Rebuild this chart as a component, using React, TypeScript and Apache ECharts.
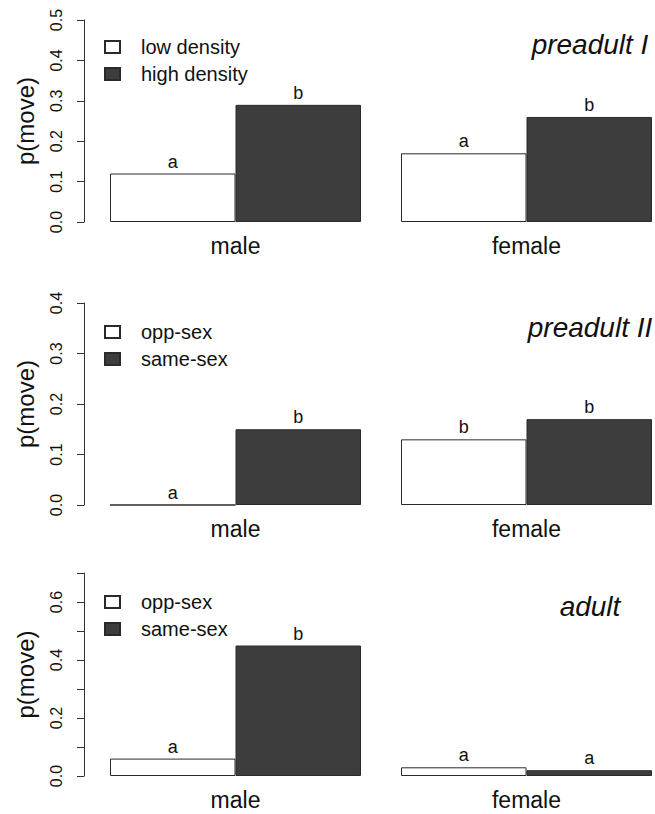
import React, { useEffect, useRef } from "react";
import * as echarts from "echarts";

const categories = ["male", "female"];

const p1Names = ["low density", "high density"];
const p1Low = [0.12, 0.17];
const p1High = [0.29, 0.26];
const p1LowLetters = ["a", "a"];
const p1HighLetters = ["b", "b"];

const p2Names = ["opp-sex", "same-sex"];
const p2Opp = [0.0, 0.13];
const p2Same = [0.15, 0.17];
const p2OppLetters = ["a", "b"];
const p2SameLetters = ["b", "b"];

const p3Names = ["opp-sex", "same-sex"];
const p3Opp = [0.06, 0.03];
const p3Same = [0.45, 0.02];
const p3OppLetters = ["a", "a"];
const p3SameLetters = ["b", "a"];

const yMax = [0.5, 0.4, 0.7];
const panelTitles = ["preadult I", "preadult II", "adult"];

const FONT = "Liberation Sans, Arial, Helvetica, sans-serif";
const INK = "#111";
const DARK = "#3d3d3d";
const EDGE = "#2a2a2a";

export default function App() {
  const ref = useRef<HTMLDivElement>(null);
  useEffect(() => {
    if (!ref.current) return;
    const chart = echarts.init(ref.current, null, { renderer: "svg" });

    const gridTops = [20, 303, 573];
    const gridHeights = [202, 202, 203];
    const legendTops = [37, 322, 592];
    const titleYs = [44, 327, 606];

    const panels = [
      { names: p1Names, low: p1Low, high: p1High, lowL: p1LowLetters, highL: p1HighLetters },
      { names: p2Names, low: p2Opp, high: p2Same, lowL: p2OppLetters, highL: p2SameLetters },
      { names: p3Names, low: p3Opp, high: p3Same, lowL: p3OppLetters, highL: p3SameLetters },
    ];

    const grid = panels.map((_, i) => ({
      left: 90,
      width: 582,
      top: gridTops[i],
      height: gridHeights[i],
    }));

    const xAxis = panels.map((_, i) => ({
      type: "category",
      gridIndex: i,
      data: categories,
      axisLine: { show: false },
      axisTick: { show: false },
      axisLabel: { fontSize: 23, color: INK, fontFamily: FONT, margin: 12 },
    }));

    const yAxis = panels.map((_, i) => ({
      type: "value",
      gridIndex: i,
      min: 0,
      max: yMax[i],
      interval: 0.1,
      offset: 6,
      splitLine: { show: false },
      axisLine: { show: true, lineStyle: { color: "#333", width: 1 } },
      axisTick: { show: true, length: 7, lineStyle: { color: "#333" } },
      axisLabel: {
        rotate: 90,
        margin: 20,
        fontSize: 16,
        color: INK,
        fontFamily: FONT,
        formatter: (v: number) => {
          if (i === 2 && Math.round(v * 10) % 2 !== 0) return "";
          return v.toFixed(1);
        },
      },
      name: "p(move)",
      nameLocation: "middle",
      nameRotate: 90,
      nameGap: 47,
      nameTextStyle: { fontSize: 24, color: INK, fontFamily: FONT },
    }));

    const series: any[] = [];
    panels.forEach((p, i) => {
      const mk = (name: string, data: number[], letters: string[], fill: string) => ({
        type: "bar",
        name,
        xAxisIndex: i,
        yAxisIndex: i,
        data,
        barGap: "0%",
        barCategoryGap: "13.75%",
        itemStyle: { color: fill, borderColor: EDGE, borderWidth: 1 },
        label: {
          show: true,
          position: "top",
          distance: 3,
          fontSize: 18,
          color: INK,
          fontFamily: FONT,
          formatter: (prm: any) => letters[prm.dataIndex],
        },
      });
      series.push(mk(p.names[0], p.low, p.lowL, "#ffffff"));
      series.push(mk(p.names[1], p.high, p.highL, DARK));
    });

    const legend = panels.map((p, i) => ({
      data: p.names,
      orient: "vertical",
      left: 104,
      top: legendTops[i],
      padding: 0,
      itemGap: 7,
      itemWidth: 15,
      itemHeight: 12,
      selectedMode: false,
      icon: "rect",
      textStyle: { fontSize: 20, color: INK, fontFamily: FONT, padding: [0, 0, 0, 16] },
    }));

    const graphic = panelTitles.map((t, i) => ({
      type: "text",
      x: 590,
      y: titleYs[i],
      style: {
        text: t,
        align: "center",
        verticalAlign: "middle",
        fontSize: 28,
        fontStyle: "italic",
        fontFamily: FONT,
        fill: INK,
      },
    }));

    chart.setOption({
      animation: false,
      backgroundColor: "#ffffff",
      grid,
      xAxis,
      yAxis,
      legend,
      series,
      graphic,
    } as any);

    return () => chart.dispose();
  }, []);

  return (
    <div
      style={{
        position: "absolute",
        left: 0,
        top: 0,
        width: 655,
        height: 814,
        overflow: "hidden",
        background: "#fff",
      }}
    >
      <div ref={ref} style={{ width: 700, height: 814 }} />
    </div>
  );
}
